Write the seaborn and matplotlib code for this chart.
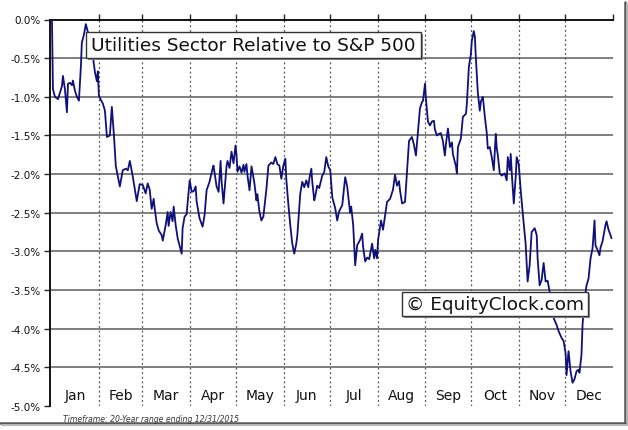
import matplotlib
matplotlib.use("Agg")
import matplotlib.pyplot as plt
import seaborn as sns
import pandas as pd
from matplotlib.patches import Rectangle
from matplotlib.lines import Line2D

# ---------------- data ----------------
days = [0, 1.3, 1.9, 3.2, 5.2, 7.8, 8.4, 9.7, 11.0, 11.7, 13.0, 14.3, 14.9, 16.2, 17.5, 18.8,
        20.1, 20.7, 22.0, 23.3, 24.6, 26.6, 27.9, 29.2, 30.5, 31.1, 31.8, 34.4, 35.7, 37.0,
        38.9, 40.2, 41.5, 42.8, 44.1, 45.4, 47.3, 49.3, 50.6, 51.9, 53.8, 56.4, 58.3, 60.3,
        62.2, 63.5, 64.8, 66.1, 67.4, 68.1, 69.4, 70.7, 72.6, 73.3, 75.2, 76.5, 77.1, 78.4,
        79.7, 80.4, 81.7, 83.0, 85.6, 86.2, 87.5, 88.8, 90.8, 92.1, 93.4, 94.7, 95.3, 97.2,
        99.2, 100.5, 101.8, 103.7, 105.7, 106.3, 108.3, 109.6, 110.9, 111.5, 112.8, 114.8,
        115.4, 116.7, 118.0, 119.3, 120.6, 121.2, 121.9, 123.2, 124.5, 125.8, 126.4, 127.7,
        128.4, 129.7, 131.0, 132.9, 134.2, 134.8, 136.1, 137.4, 138.7, 140.7, 142.0, 143.9,
        145.2, 146.5, 147.8, 149.1, 150.4, 151.7, 153.0, 153.6, 154.9, 156.2, 157.5, 158.8,
        160.1, 160.8, 162.7, 164.0, 165.3, 166.6, 167.9, 168.6, 169.9, 170.5, 171.8, 172.5,
        173.7, 175.0, 177.0, 178.3, 179.6, 180.9, 182.2, 183.5, 185.4, 186.7, 188.0, 190.0,
        191.9, 193.2, 195.1, 195.8, 197.1, 198.4, 199.7, 201.6, 202.9, 203.6, 204.9, 206.2,
        207.5, 209.4, 210.7, 211.4, 212.6, 213.3, 215.2, 216.5, 219.1, 221.1, 223.0, 224.3,
        225.6, 226.9, 227.6, 228.9, 230.8, 232.1, 233.4, 235.3, 236.6, 237.9, 239.2, 240.5,
        241.8, 242.5, 243.8, 244.4, 245.7, 247.0, 248.3, 249.6, 250.2, 251.5, 252.8, 254.1,
        255.4, 256.7, 257.4, 258.7, 260.0, 261.3, 261.9, 263.9, 264.5, 265.2, 267.1, 268.4,
        270.4, 271.0, 272.3, 273.6, 274.2, 275.5, 276.2, 276.8, 278.1, 279.4, 280.1, 281.4,
        282.7, 284.0, 284.6, 285.9, 287.2, 288.5, 289.8, 290.4, 291.1, 292.4, 293.7, 295.6,
        296.9, 297.6, 298.9, 299.5, 300.2, 301.5, 302.8, 303.4, 304.7, 306.0, 307.3, 309.2,
        310.5, 311.8, 313.1, 315.1, 316.4, 317.0, 318.3, 319.6, 320.9, 321.6, 322.2, 323.5,
        324.8, 326.1, 327.4, 329.3, 330.6, 332.6, 333.9, 335.2, 335.8, 337.1, 338.4, 339.7,
        341.0, 342.3, 343.6, 344.2, 345.5, 346.2, 347.5, 348.8, 350.1, 351.4, 352.7, 354.0,
        354.6, 355.9, 357.2, 357.9, 359.2, 361.1, 361.8, 363.1, 364.4, 365.0]

values = [0.0, -0.03, -0.90, -1.00, -1.03, -0.86, -0.73, -0.90, -1.20, -0.83, -0.82, -0.85,
          -0.79, -0.92, -1.00, -1.05, -0.60, -0.30, -0.20, -0.06, -0.16, -0.40, -0.48, -0.68,
          -0.80, -0.67, -0.99, -1.09, -1.18, -1.52, -1.50, -1.13, -1.48, -1.90, -2.03, -2.16,
          -1.95, -1.93, -1.95, -1.83, -2.03, -2.35, -2.13, -2.14, -2.25, -2.12, -2.20, -2.45,
          -2.32, -2.45, -2.64, -2.73, -2.79, -2.86, -2.66, -2.49, -2.67, -2.49, -2.61, -2.42,
          -2.66, -2.83, -3.03, -2.70, -2.55, -2.52, -2.08, -2.23, -2.22, -2.16, -2.35, -2.57,
          -2.68, -2.53, -2.21, -2.10, -1.93, -1.89, -2.16, -2.23, -1.83, -2.08, -2.38, -1.89,
          -1.83, -1.92, -1.71, -1.86, -1.63, -1.74, -1.97, -1.90, -1.98, -1.88, -1.97, -1.87,
          -2.02, -2.21, -1.90, -2.12, -2.34, -2.26, -2.48, -2.60, -2.55, -2.19, -1.89, -1.85,
          -1.87, -1.78, -1.87, -1.89, -2.06, -1.89, -1.80, -2.06, -2.38, -2.66, -2.90, -3.03,
          -2.90, -2.79, -2.25, -2.10, -2.17, -2.08, -2.17, -2.06, -1.93, -2.10, -2.34, -2.28,
          -2.15, -2.18, -2.02, -1.97, -1.78, -1.90, -1.95, -2.30, -2.44, -2.60, -2.48, -2.40,
          -2.04, -2.16, -2.50, -2.42, -2.66, -3.18, -2.92, -2.85, -2.77, -2.95, -3.13, -3.08,
          -3.10, -2.90, -3.09, -2.98, -3.09, -2.85, -2.60, -2.72, -2.36, -2.32, -2.20, -2.01,
          -2.15, -2.09, -2.22, -2.38, -2.36, -1.97, -1.57, -1.52, -1.62, -1.76, -1.46, -1.15,
          -1.07, -1.05, -0.83, -1.03, -1.32, -1.37, -1.32, -1.31, -1.42, -1.50, -1.48, -1.47,
          -1.57, -1.76, -1.61, -1.41, -1.65, -1.59, -1.74, -1.90, -1.99, -1.65, -1.54, -1.26,
          -1.22, -1.09, -0.61, -0.45, -0.28, -0.15, -0.22, -0.48, -0.94, -1.18, -1.06, -1.00,
          -1.26, -1.48, -1.67, -1.65, -1.78, -1.95, -1.48, -1.66, -1.75, -1.99, -2.02, -1.99,
          -2.08, -1.78, -1.95, -1.74, -1.99, -2.38, -2.02, -1.78, -1.87, -2.21, -2.50, -2.90,
          -3.39, -3.18, -2.75, -2.70, -2.79, -3.09, -3.44, -3.37, -3.15, -3.28, -3.39, -3.38,
          -3.52, -3.70, -3.86, -3.95, -4.03, -4.12, -4.16, -4.32, -4.60, -4.29, -4.55, -4.70,
          -4.65, -4.55, -4.53, -4.57, -4.34, -3.95, -3.62, -3.44, -3.35, -3.09, -2.96, -2.60,
          -2.92, -2.98, -3.05, -2.95, -2.87, -2.66, -2.61, -2.72, -2.79, -2.83]

months = ["Jan", "Feb", "Mar", "Apr", "May", "Jun",
          "Jul", "Aug", "Sep", "Oct", "Nov", "Dec"]
month_starts = [1, 32, 60, 91, 121, 152, 182, 213, 244, 274, 305, 335]
year_end = 366
y_ticks = [0.0, -0.5, -1.0, -1.5, -2.0, -2.5, -3.0, -3.5, -4.0, -4.5, -5.0]
y_tick_labels = ["0.0%", "-0.5%", "-1.0%", "-1.5%", "-2.0%", "-2.5%",
                 "-3.0%", "-3.5%", "-4.0%", "-4.5%", "-5.0%"]
title_text = "Utilities Sector Relative to S&P 500"
credit_text = "\u00a9 EquityClock.com"
footer_text = "Timeframe: 20-Year range ending 12/31/2015"

# ---------------- figure ----------------
sns.set_style("white")
plt.rcParams["font.family"] = ["DejaVu Sans"]
plt.rcParams["axes.unicode_minus"] = False

W, H = 628, 431
fig = plt.figure(figsize=(W / 100, H / 100), dpi=100)
fig.patch.set_facecolor("white")
ax = fig.add_axes([50 / W, 1 - 407 / H, 563 / W, 386.5 / H])
ax.set_facecolor("white")

df = pd.DataFrame({"day": days, "value": values})
sns.lineplot(data=df, x="day", y="value", ax=ax, color="#10107a",
             linewidth=1.3, estimator=None, sort=False, zorder=3)

ax.set_xlim(0, year_end)
ax.set_ylim(-5, 0)
ax.set_xlabel("")
ax.set_ylabel("")

# horizontal grid
for yv in y_ticks[1:-1]:
    ax.axhline(yv, color="#7f7f7f", lw=1.4, zorder=1)
# month separators
for ms in month_starts[1:]:
    ax.axvline(ms, color="#555555", lw=0.9, ls=(0, (1.5, 2.2)), zorder=1)

# month labels inside plot
bounds = month_starts + [year_end]
for i, m in enumerate(months):
    mid = (bounds[i] + bounds[i + 1]) / 2
    ax.text(mid, -4.86, m, ha="center", va="center", fontsize=10, color="#111111")

# ticks
ax.set_yticks(y_ticks)
ax.set_yticklabels(y_tick_labels, fontsize=7.5, color="#111111")
ax.tick_params(axis="y", direction="out", length=4, width=1, pad=3, left=True)
ax.set_xticks(month_starts[1:] + [year_end])
ax.xaxis.set_ticks_position("top")
ax.tick_params(axis="x", direction="out", length=4, width=1,
               labeltop=False, labelbottom=False, top=True, bottom=False)

for s in ["right", "bottom"]:
    ax.spines[s].set_visible(False)
for s in ["left", "top"]:
    ax.spines[s].set_visible(True)
    ax.spines[s].set_color("black")
    ax.spines[s].set_linewidth(1.3)


def fig_box(x0, y0, x1, y1, text, fs):
    # pixel coords (top-left origin) -> figure fraction
    fx0, fx1 = x0 / W, x1 / W
    fy0, fy1 = 1 - y1 / H, 1 - y0 / H
    sh = Rectangle((fx0 + 2 / W, fy0 - 2 / H), fx1 - fx0, fy1 - fy0,
                   transform=fig.transFigure, facecolor="#8a8a8a",
                   edgecolor="none", zorder=5)
    bx = Rectangle((fx0, fy0), fx1 - fx0, fy1 - fy0, transform=fig.transFigure,
                   facecolor="white", edgecolor="#333333", lw=1, zorder=6)
    fig.patches.extend([sh, bx])
    fig.text((fx0 + fx1) / 2, (fy0 + fy1) / 2, text, ha="center", va="center",
             fontsize=fs, color="#111111", zorder=7)


fig_box(86, 33, 421, 59, title_text, 13.3)
fig_box(402, 293, 588, 317, credit_text, 13.3)

fig.text(63 / W, 1 - 420 / H, footer_text, ha="left", va="center",
         fontsize=5.6, style="italic", color="#333333")

# frame shadow right / bottom
fig.add_artist(Line2D([624.5 / W, 624.5 / W], [1 - 3 / H, 1 - 424 / H],
                      transform=fig.transFigure, color="#555555", lw=1.8))
fig.add_artist(Line2D([626.5 / W, 626.5 / W], [1 - 5 / H, 1 - 426 / H],
                      transform=fig.transFigure, color="#b5b5b5", lw=1.5))
fig.add_artist(Line2D([0, 625 / W], [1 - 423.5 / H, 1 - 423.5 / H],
                      transform=fig.transFigure, color="#555555", lw=1.8))
fig.add_artist(Line2D([2 / W, 627 / W], [1 - 425.8 / H, 1 - 425.8 / H],
                      transform=fig.transFigure, color="#b5b5b5", lw=1.5))

fig.savefig("out.png", dpi=100, facecolor="white")
